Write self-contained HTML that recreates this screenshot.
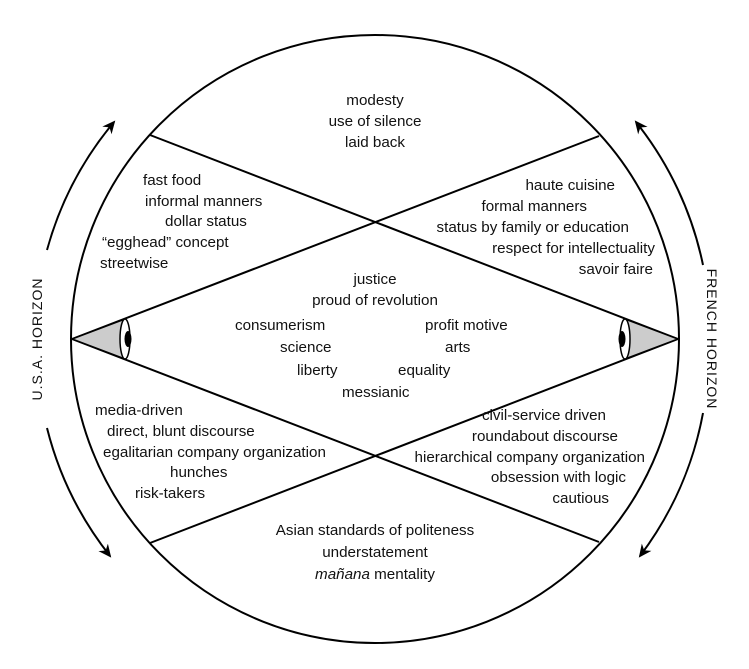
<!DOCTYPE html>
<html><head><meta charset="utf-8"><style>
html,body{margin:0;padding:0;background:#fff;}
svg{display:block;}
text{font-family:"Liberation Sans",sans-serif;font-size:15.2px;fill:#111;}
</style></head><body>
<svg width="749" height="669" viewBox="0 0 749 669" xmlns="http://www.w3.org/2000/svg">
<defs>
<marker id="ah" markerWidth="14" markerHeight="14" refX="11" refY="6" orient="auto" markerUnits="userSpaceOnUse">
<path d="M0,0 L13,6 L0,12 L4,6 Z" fill="#000"/>
</marker>
</defs>
<g stroke="#000" stroke-width="2" fill="none">
<circle cx="375" cy="339" r="304"/>
<line x1="150" y1="135" x2="678" y2="339"/>
<line x1="72" y1="339" x2="599" y2="136"/>
<line x1="150" y1="543" x2="678" y2="339"/>
<line x1="72" y1="339" x2="599" y2="542"/>
</g>
<polygon points="72,339 125,319 125,359" fill="#ccc" stroke="#000" stroke-width="1.5"/>
<ellipse cx="125" cy="339" rx="5" ry="20" fill="#fff" stroke="#000" stroke-width="1.5"/>
<ellipse cx="128" cy="339" rx="3.5" ry="8" fill="#000"/>
<polygon points="678,339 625,319 625,359" fill="#ccc" stroke="#000" stroke-width="1.5"/>
<ellipse cx="625" cy="339" rx="5" ry="20" fill="#fff" stroke="#000" stroke-width="1.5"/>
<ellipse cx="622" cy="339" rx="3.5" ry="8" fill="#000"/>
<g stroke="#000" stroke-width="2" fill="none">
<path d="M47,250 A340,340 0 0 1 114,122" marker-end="url(#ah)"/>
<path d="M47,428 A340,340 0 0 0 110,556" marker-end="url(#ah)"/>
<path d="M703,265 A340,340 0 0 0 636,122" marker-end="url(#ah)"/>
<path d="M703,413 A340,340 0 0 1 640,556" marker-end="url(#ah)"/>
</g>
<text transform="translate(42,339) rotate(-90)" text-anchor="middle" style="font-size:14px;letter-spacing:1px">U.S.A.  HORIZON</text>
<text transform="translate(707,339) rotate(90)" text-anchor="middle" style="font-size:14px;letter-spacing:1px">FRENCH  HORIZON</text>
<g text-anchor="middle">
<text x="375" y="105">modesty</text>
<text x="375" y="126">use of silence</text>
<text x="375" y="147">laid back</text>
<text x="375" y="284">justice</text>
<text x="375" y="305">proud of revolution</text>
<text x="375" y="535">Asian standards of politeness</text>
<text x="375" y="557">understatement</text>
<text x="375" y="579"><tspan font-style="italic">mañana</tspan> mentality</text>
</g>
<g>
<text x="143" y="185">fast food</text>
<text x="145" y="206">informal manners</text>
<text x="165" y="226">dollar status</text>
<text x="102" y="247">“egghead” concept</text>
<text x="100" y="268">streetwise</text>
<text x="235" y="330">consumerism</text>
<text x="425" y="330">profit motive</text>
<text x="280" y="352">science</text>
<text x="445" y="352">arts</text>
<text x="297" y="375">liberty</text>
<text x="398" y="375">equality</text>
<text x="342" y="397">messianic</text>
<text x="95" y="415">media-driven</text>
<text x="107" y="436">direct, blunt discourse</text>
<text x="103" y="457">egalitarian company organization</text>
<text x="170" y="477">hunches</text>
<text x="135" y="498">risk-takers</text>
</g>
<g text-anchor="end">
<text x="615" y="190">haute cuisine</text>
<text x="587" y="211">formal manners</text>
<text x="629" y="232">status by family or education</text>
<text x="655" y="253">respect for intellectuality</text>
<text x="653" y="274">savoir faire</text>
<text x="606" y="420">civil-service driven</text>
<text x="618" y="441">roundabout discourse</text>
<text x="645" y="462">hierarchical company organization</text>
<text x="626" y="482">obsession with logic</text>
<text x="609" y="503">cautious</text>
</g>
</svg>
</body></html>
